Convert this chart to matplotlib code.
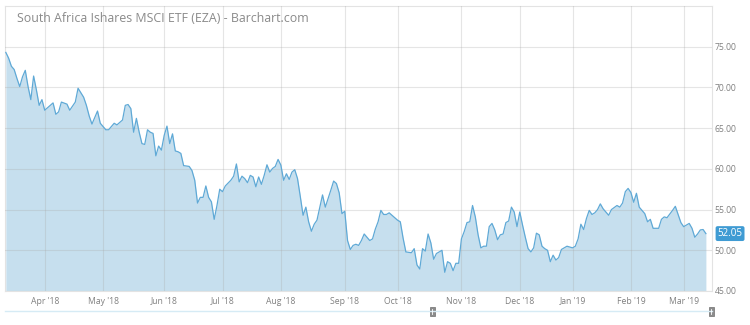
import matplotlib
matplotlib.use("Agg")
import matplotlib.pyplot as plt
from matplotlib.patches import Rectangle
from matplotlib.lines import Line2D

plt.rcParams["font.family"] = ["Open Sans", "DejaVu Sans"]

TITLE = "South Africa Ishares MSCI ETF (EZA) - Barchart.com"

# trading-day index (0 = 12 Mar 2018) and closing price
day = [0, 1, 2, 3, 4, 5, 6, 7, 8, 9, 10, 11, 12, 13, 14, 16, 17, 18, 19, 20,
       22, 23, 25, 26, 28, 29, 30, 31, 32, 33, 34, 36, 37, 39, 40, 42, 43, 44, 45, 46,
       47, 48, 49, 50, 51, 52, 53, 54, 55, 56, 57, 58, 59, 60, 61, 62, 63, 64, 66, 67,
       68, 69, 70, 71, 72, 73, 74, 75, 76, 77, 78, 79, 81, 82, 83, 84, 85, 86, 87, 88,
       89, 90, 91, 92, 93, 94, 95, 96, 97, 98, 99, 100, 101, 102, 103, 104, 105, 106, 107, 108,
       109, 110, 111, 112, 114, 115, 117, 118, 119, 120, 121, 122, 123, 124, 125, 126, 127, 128, 129, 131,
       132, 133, 134, 135, 136, 137, 138, 139, 141, 142, 143, 144, 146, 147, 148, 149, 150, 151, 152, 153,
       154, 155, 157, 158, 159, 160, 161, 162, 163, 164, 165, 166, 167, 168, 169, 170, 171, 172, 173, 174,
       175, 176, 177, 178, 179, 180, 181, 182, 183, 184, 185, 186, 187, 188, 189, 190, 191, 192, 193, 194,
       195, 196, 197, 198, 199, 200, 201, 202, 204, 205, 206, 207, 208, 209, 210, 211, 212, 213, 214, 215,
       216, 217, 218, 220, 221, 222, 223, 224, 225, 226, 227, 228, 230, 231, 232, 233, 234, 235, 236, 237,
       238, 240, 241, 242, 243, 244, 246, 247, 248, 249, 250, 251, 252]
price = [74.3, 73.6, 72.6, 72.2, 71.1, 70.1, 71.3, 72.1, 70.1, 68.5, 71.4, 69.7, 67.8, 68.5, 67.2, 67.8, 68.1, 66.7, 67.0, 68.2,
         67.95, 67.2, 68.2, 69.9, 68.8, 67.8, 66.5, 65.5, 66.3, 67.1, 65.6, 64.8, 64.8, 65.6, 65.4, 66.0, 67.8, 67.9, 67.4, 64.5,
         66.2, 64.5, 63.1, 63.0, 64.8, 64.5, 64.35, 61.6, 62.8, 62.3, 64.1, 65.25, 63.1, 64.3, 62.2, 62.1, 61.9, 60.4, 60.3, 59.8,
         58.6, 55.8, 56.5, 56.5, 57.9, 56.5, 55.95, 53.8, 55.5, 57.5, 57.2, 57.9, 58.6, 59.1, 60.6, 58.4, 59.1, 58.8, 58.3, 59.2,
         59.0, 57.8, 59.0, 58.1, 59.2, 60.5, 59.6, 60.05, 60.3, 61.16, 60.46, 58.6, 59.4, 58.7, 59.6, 59.9, 58.8, 56.6, 54.3, 55.3,
         53.5, 52.34, 53.2, 53.7, 56.8, 55.3, 57.4, 58.5, 58.2, 57.05, 54.5, 54.8, 51.2, 50.1, 50.6, 50.74, 50.6, 51.2, 52.0, 51.2,
         51.4, 52.6, 53.5, 54.9, 54.4, 54.4, 54.6, 54.3, 53.7, 53.5, 51.5, 49.8, 49.7, 50.2, 48.2, 47.7, 50.2, 49.9, 52.0, 50.9,
         48.9, 49.6, 50.0, 47.3, 48.6, 48.4, 47.5, 48.4, 48.4, 51.4, 52.3, 53.4, 53.5, 55.5, 54.1, 51.9, 50.3, 50.5, 50.5, 52.9,
         53.3, 52.5, 51.3, 51.9, 52.0, 53.4, 53.6, 55.3, 54.7, 52.9, 54.7, 53.1, 51.6, 50.2, 49.8, 50.3, 52.1, 51.9, 50.5, 50.2,
         50.0, 48.6, 49.4, 48.8, 49.1, 50.1, 50.3, 50.5, 50.3, 50.5, 51.4, 53.2, 52.55, 53.9, 54.9, 54.4, 54.6, 55.0, 55.7, 55.1,
         54.7, 54.3, 55.0, 55.5, 55.3, 55.8, 57.2, 57.6, 57.1, 55.9, 57.0, 55.3, 54.5, 53.5, 53.8, 52.7, 52.7, 52.7, 53.8, 54.1,
         54.0, 54.9, 55.4, 54.4, 53.4, 52.9, 53.3, 52.7, 51.6, 52.0, 52.5, 52.55, 52.05]

month_pos = [14, 35, 57, 78, 99, 122, 141, 164, 185, 204, 225, 244]
month_lbl = ["Apr '18", "May '18", "Jun '18", "Jul '18", "Aug '18", "Sep '18",
             "Oct '18", "Nov '18", "Dec '18", "Jan '19", "Feb '19", "Mar '19"]
y_ticks = [45, 50, 55, 60, 65, 70, 75]
last_price = 52.05

LINE = "#5fa9d6"
FILL = "#c6dfee"
TXT = "#8a8a8a"

fig = plt.figure(figsize=(7.5, 3.25), dpi=100)
ax = fig.add_axes([5 / 750, 34 / 325, 707 / 750, 285 / 325])

ax.fill_between(day, price, 45, color=FILL, lw=0, zorder=1)
ax.plot(day, price, color=LINE, lw=0.9, zorder=3)

ax.set_xlim(-0.3, 254.2)
ax.set_ylim(45, 80)
ax.set_xticks(month_pos)
ax.set_xticklabels(month_lbl)
ax.set_yticks(y_ticks)
ax.set_yticklabels([f"{v:.2f}" for v in y_ticks])
ax.yaxis.tick_right()
ax.tick_params(axis="both", length=0, labelsize=6.2, colors="#808080")
ax.tick_params(axis="y", pad=2)
ax.tick_params(axis="x", pad=4)
ax.grid(True, color="#aaaaaa", alpha=0.3, lw=0.8, zorder=2)
ax.set_axisbelow(False)
for s in ax.spines.values():
    s.set_color("#e3e3e3")
    s.set_linewidth(0.8)

ax.text(0.017, 0.955, TITLE, transform=ax.transAxes, ha="left", va="center",
        fontsize=8.9, color=TXT)

# last price marker on the right axis
ax.annotate(f"{last_price:.2f}", xy=(1.0, last_price),
            xycoords=("axes fraction", "data"), xytext=(4, 0),
            textcoords="offset points", ha="left", va="center",
            fontsize=7, color="white",
            bbox=dict(boxstyle="round,pad=0.2", fc="#3f9bd3", ec="none"))

# navigator strip at the bottom
fig.add_artist(Line2D([5 / 750, 712 / 750], [1 - 311 / 325] * 2,
                      color="#d6ebf5", lw=1.0))
for hx in (432, 711):
    fig.add_artist(Rectangle(((hx - 2.5) / 750, 1 - 315.5 / 325), 5 / 750, 9 / 325,
                             fc="#8c8c8c", ec="#6f6f6f", lw=0.5))
    fig.add_artist(Line2D([hx / 750] * 2, [1 - 313.5 / 325, 1 - 308.5 / 325],
                          color="white", lw=0.6))

fig.savefig("out.png", dpi=100)
